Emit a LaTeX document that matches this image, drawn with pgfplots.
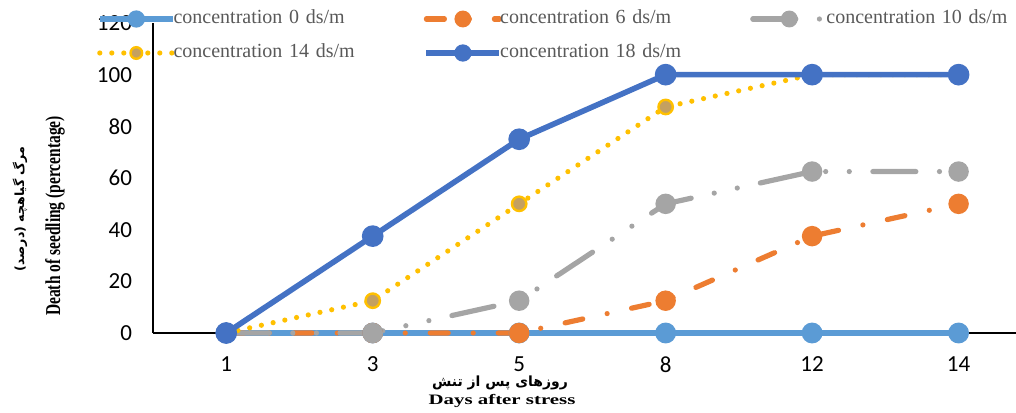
\documentclass[border=0pt]{standalone}
\usepackage{fontspec}
\usepackage{graphicx}
\usepackage{pgfplots}
\pgfplotsset{compat=1.18}
\setmainfont{Liberation Serif}
\newfontfamily\tickfont{Carlito}
\newfontfamily\farsi[Script=Arabic]{DejaVu Sans}
\TeXXeTstate=1

\definecolor{c0}{RGB}{91,155,213}
\definecolor{c6}{RGB}{237,125,49}
\definecolor{c10}{RGB}{165,165,165}
\definecolor{c14}{RGB}{255,192,0}
\definecolor{c18}{RGB}{68,114,196}
\definecolor{tan14}{RGB}{196,160,96}
\definecolor{legtext}{RGB}{89,89,89}

\begin{document}
\begin{tikzpicture}
\begin{axis}[
    scale only axis,
    width=431.5pt, height=155pt,
    xmin=-0.5, xmax=5.392,
    ymin=0, ymax=120,
    axis x line=bottom, axis y line=left,
    axis line style={-, black, line width=0.6pt},
    xtick={0,...,5}, xticklabels={1,3,5,8,12,14},
    ytick={0,20,...,120},
    major tick length=0pt,
    tick label style={font=\tickfont\fontsize{11.5}{13}\selectfont},
    /pgf/number format/assume math mode=true,
    xticklabel style={yshift=-8.2pt},
    yticklabel style={xshift=-7pt},
    clip=false,
    legend columns=3,
    legend style={draw=none, fill=none, at={(0,1)}, anchor=north west,
        xshift=-28pt, yshift=6.5pt, inner sep=0pt, outer sep=0pt,
        row sep=8pt, font=\fontsize{10}{12}\selectfont, text=legtext,
        nodes={inner sep=0pt, text width=120pt, align=left,
               text height=7pt, text depth=2pt},
        /tikz/every odd column/.append style={column sep=-1pt},
        /tikz/every even column/.append style={column sep=5pt}},
    legend image code/.code={\draw[mark repeat=2,mark phase=2,mark size=2.9pt]
        plot coordinates {(0pt,0pt) (18.25pt,0pt) (36.5pt,0pt)};},
]
% concentration 0
\addplot[c0, line width=2.8pt, mark=*, mark size=3.8pt, mark options={solid}]
    coordinates {(0,0) (1,0) (2,0) (3,0) (4,0) (5,0)};
\addlegendentry{concentration 0 ds/m}
% concentration 6
\addplot[c6, line width=2.6pt, line cap=round,
    dash pattern=on 9pt off 12.5pt on 0pt off 12.5pt,
    mark=*, mark size=3.8pt, mark options={solid}]
    coordinates {(0,0) (1,0) (2,0) (3,12.5) (4,37.5) (5,50)};
\addlegendentry{concentration 6 ds/m}
% concentration 10
\addplot[c10, line width=2.6pt, line cap=round,
    dash pattern=on 21.5pt off 11.8pt on 0pt off 11.8pt on 0pt off 11.8pt,
    mark=*, mark size=3.8pt, mark options={solid}]
    coordinates {(0,0) (1,0) (2,12.5) (3,50) (4,62.5) (5,62.5)};
\addlegendentry{concentration 10 ds/m}
% concentration 14
\addplot[c14, line width=2.6pt, line cap=round,
    dash pattern=on 0pt off 6pt,
    mark=*, mark size=3.6pt, mark options={solid, fill=tan14, draw=c14, line width=1.2pt}]
    coordinates {(0,0) (1,12.5) (2,50) (3,87.5) (4,100) (5,100)};
\addlegendentry{concentration 14 ds/m}
% concentration 18
\addplot[c18, line width=2.8pt, mark=*, mark size=4pt, mark options={solid}]
    coordinates {(0,0) (1,37.5) (2,75) (3,100) (4,100) (5,100)};
\addlegendentry{concentration 18 ds/m}
\end{axis}

% axis titles
\node[rotate=90] at (-49pt,58.5pt)
    {\scalebox{0.73}[1]{\fontsize{10.6}{12}\selectfont\bfseries Death of seedling (percentage)}};
\node[rotate=90] at (-66.5pt,62pt)
    {\farsi\bfseries\fontsize{6.3}{7}\selectfont\beginR مرگ گیاهچه (درصد)\endR};
\node at (173.5pt,-24.8pt)
    {\farsi\bfseries\fontsize{7}{8}\selectfont\beginR روزهای پس از تنش\endR};
\node at (174.5pt,-33.8pt)
    {\scalebox{1.45}[1]{\fontsize{7.2}{8}\selectfont\bfseries Days after stress}};

\pgfresetboundingbox
\useasboundingbox (-76.5pt,-39.5pt) rectangle (431.5pt,166.5pt);
\end{tikzpicture}
\end{document}
